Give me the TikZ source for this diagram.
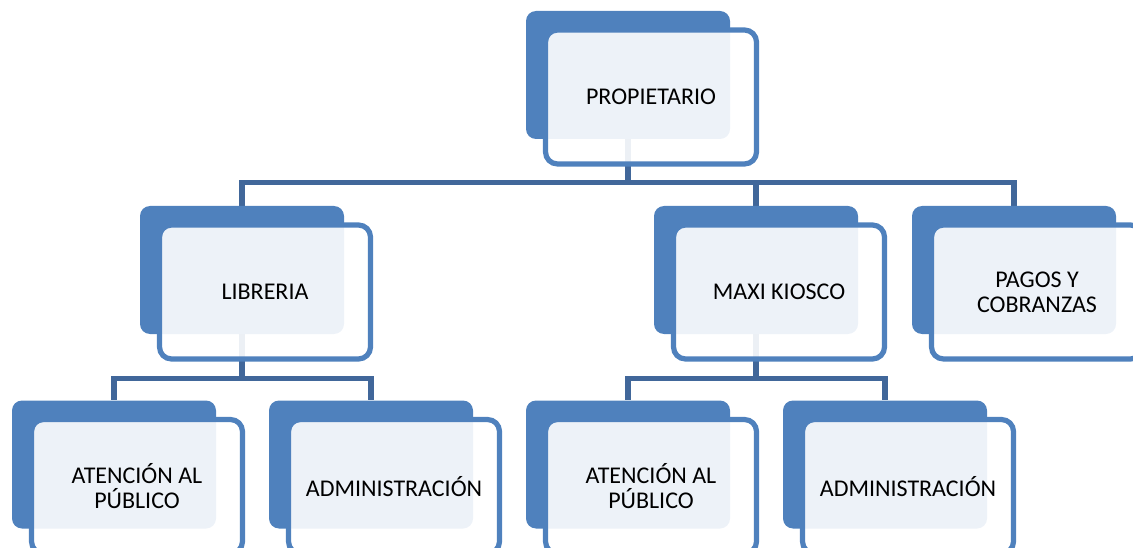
\documentclass[tikz,border=0pt]{standalone}
\usepackage{fontspec}
\setmainfont{Carlito}
\usetikzlibrary{positioning,calc}
\pgfdeclarelayer{background}
\pgfsetlayers{background,main}
\definecolor{boxblue}{RGB}{79,129,189}
\definecolor{lineblue}{RGB}{65,103,154}
\tikzset{
	back/.style={rectangle,rounded corners=10pt,fill=boxblue,minimum width=204pt,minimum height=128pt,inner sep=0pt},
	front/.style={rectangle,rounded corners=12pt,draw=boxblue,line width=5.2pt,fill=white,fill opacity=0.9,text opacity=1,minimum width=211pt,minimum height=134pt,inner sep=0pt,align=center,font=\fontsize{24}{25}\selectfont},
	conn/.style={lineblue,line width=5.2pt}
}
\begin{document}
\begin{tikzpicture}[x=1pt,y=-1pt]
	\clip (0,0) rectangle (1133,548);
	\useasboundingbox (0,0) rectangle (1133,548);
	
	% top
	\node[back] (prop) at (628,75) {};
	\node[front] (prop-f) at ($(prop)+(23,22)$) {PROPIETARIO};
	
	% second row
	\node[back] (lib) at (242,270) {};
	\node[front] (lib-f) at ($(lib)+(23,22)$) {LIBRERIA};
	
	\node[back] (maxi) at (756,270) {};
	\node[front] (maxi-f) at ($(maxi)+(23,22)$) {MAXI KIOSCO};
	
	\node[back] (pagos) at (1014,270) {};
	\node[front] (pagos-f) at ($(pagos)+(23,22)$) {PAGOS Y\\COBRANZAS};
	
	% third row
	\node[back] (at1) at (114,464.5) {};
	\node[front] (at1-f) at ($(at1)+(23,22)$) {ATENCIÓN AL\\PÚBLICO};
	
	\node[back] (adm1) at (371,464.5) {};
	\node[front] (adm1-f) at ($(adm1)+(23,22)$) {ADMINISTRACIÓN};
	
	\node[back] (at2) at (628,464.5) {};
	\node[front] (at2-f) at ($(at2)+(23,22)$) {ATENCIÓN AL\\PÚBLICO};
	
	\node[back] (adm2) at (885,464.5) {};
	\node[front] (adm2-f) at ($(adm2)+(23,22)$) {ADMINISTRACIÓN};
	
	\begin{pgfonlayer}{background}
		\draw[conn] (prop.south) -- ++(0,43) -| (lib.north);
		\draw[conn] (prop.south) -- ++(0,43) -| (maxi.north);
		\draw[conn] (prop.south) -- ++(0,43) -| (pagos.north);
		
		\draw[conn] (lib.south) -- ++(0,44) -| (at1.north);
		\draw[conn] (lib.south) -- ++(0,44) -| (adm1.north);
		
		\draw[conn] (maxi.south) -- ++(0,44) -| (at2.north);
		\draw[conn] (maxi.south) -- ++(0,44) -| (adm2.north);
	\end{pgfonlayer}
	
\end{tikzpicture}
\end{document}
